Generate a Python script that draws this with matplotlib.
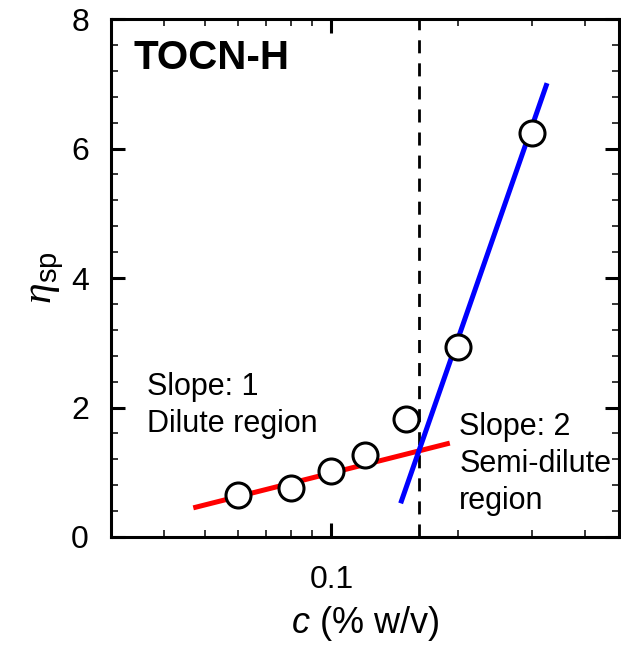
import numpy as np
import matplotlib.pyplot as plt
from matplotlib.ticker import FixedLocator, NullFormatter, MultipleLocator

plt.rcParams["font.family"] = ["Liberation Sans", "DejaVu Sans"]
plt.rcParams["mathtext.fontset"] = "custom"
plt.rcParams["mathtext.rm"] = "Liberation Sans"
plt.rcParams["mathtext.it"] = "Liberation Sans:italic"
plt.rcParams["mathtext.cal"] = "Liberation Serif:italic"

# --------------------------------------------------------------
# Data
# --------------------------------------------------------------

conc = [0.06, 0.08, 0.10, 0.12, 0.15, 0.20, 0.30]
eta_sp = [0.65, 0.76, 1.02, 1.27, 1.82, 2.93, 6.24]

dilute_fit_x = [0.047, 0.191]
dilute_fit_y = [0.45, 1.45]

semidilute_fit_x = [0.146, 0.325]
semidilute_fit_y = [0.52, 7.01]

c_star = 0.161

# --------------------------------------------------------------
# Plot
# --------------------------------------------------------------

fig = plt.figure(figsize=(6.21, 6.49), dpi=100)
ax = fig.add_axes([0.179, 0.1726, 0.818, 0.798])

ax.axvline(c_star, color="black", lw=2, dashes=(4.7, 3.6), zorder=1)
ax.plot(dilute_fit_x, dilute_fit_y, color="#ff0000", lw=3.6, solid_capstyle="butt", zorder=2)
ax.plot(semidilute_fit_x, semidilute_fit_y, color="#0000ff", lw=3.6, solid_capstyle="butt", zorder=2)
ax.plot(conc, eta_sp, "o", ms=18, mfc="white", mec="black", mew=2.2, zorder=3)

ax.set_xscale("log")
ax.set_xlim(0.03, 0.482)
ax.set_ylim(0, 8)

ax.xaxis.set_major_locator(FixedLocator([0.1]))
ax.xaxis.set_minor_locator(FixedLocator([0.03, 0.04, 0.05, 0.06, 0.07, 0.08, 0.09, 0.2, 0.3, 0.4]))
ax.xaxis.set_minor_formatter(NullFormatter())
ax.set_xticklabels(["0.1"])
ax.yaxis.set_major_locator(MultipleLocator(2))
ax.yaxis.set_minor_locator(MultipleLocator(0.4))

ax.tick_params(which="both", direction="in", top=True, right=True, labelsize=23)
ax.tick_params(which="major", length=10, width=2.2)
ax.tick_params(axis="x", which="major", pad=20)
ax.tick_params(axis="y", which="major", pad=16)
ax.tick_params(which="minor", length=5, width=1.1)
for s in ax.spines.values():
    s.set_linewidth(2.2)

ax.set_xlabel(r"$c$ (% w/v)", fontsize=26, labelpad=7)
ax.set_ylabel(r"$\mathcal{\eta}_{\rm sp}$", fontsize=30, labelpad=4)

ax.text(0.043, 0.962, "TOCN-H", transform=ax.transAxes, fontsize=29,
        fontweight="bold", va="top", ha="left")
ax.text(0.07, 0.19, "Slope: 1\nDilute region", transform=ax.transAxes,
        fontsize=22, va="bottom", ha="left", linespacing=1.3)
ax.text(0.685, 0.04, "Slope: 2\nSemi-dilute\nregion", transform=ax.transAxes,
        fontsize=22, va="bottom", ha="left", linespacing=1.3)

fig.savefig("out.png", dpi=100)
